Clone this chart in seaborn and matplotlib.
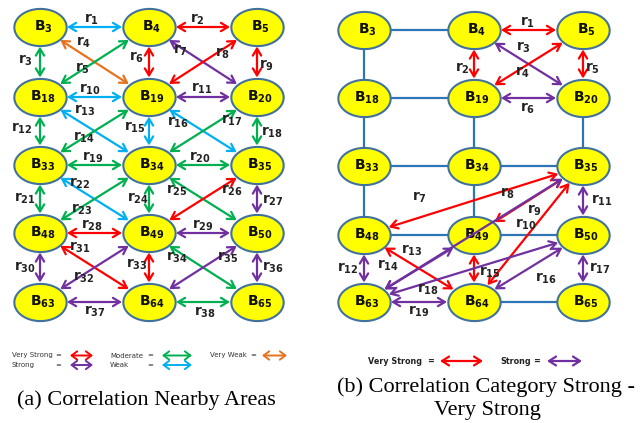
import numpy as np
import matplotlib.pyplot as plt
import seaborn as sns
import pandas as pd
from matplotlib.path import Path
from matplotlib.patches import FancyArrowPatch

sns.set_theme(style="white")

# block ids on the 5x3 grid (same in both panels)
grid_ids = [[3, 4, 5], [18, 19, 20], [33, 34, 35], [48, 49, 50], [63, 64, 65]]

# (a) correlation between nearby areas: r1..r38
a_src = [3, 4, 3, 3, 18, 4, 4, 19, 5, 18, 19, 18, 18, 33, 19, 19, 34, 20, 33,
         34, 33, 33, 48, 34, 34, 49, 35, 48, 49, 48, 48, 63, 49, 49, 64, 50, 63, 64]
a_dst = [4, 5, 18, 19, 4, 19, 20, 5, 20, 19, 20, 33, 34, 19, 34, 35, 20, 35, 34,
         35, 48, 49, 34, 49, 50, 35, 50, 49, 50, 63, 64, 49, 64, 65, 50, 65, 64, 65]
a_cat = ["weak", "very strong", "moderate", "very weak", "moderate", "very strong",
         "strong", "very strong", "very strong", "weak", "strong", "moderate", "weak",
         "moderate", "weak", "weak", "moderate", "moderate", "moderate", "moderate",
         "moderate", "weak", "moderate", "moderate", "moderate", "very strong", "strong",
         "very strong", "strong", "strong", "very strong", "strong", "very strong",
         "moderate", "strong", "strong", "strong", "moderate"]

# (b) only strong / very strong: r1..r19
b_src = [4, 4, 4, 19, 5, 19, 48, 49, 63, 64, 35, 48, 48, 63, 49, 64, 50, 63, 63]
b_dst = [5, 19, 20, 5, 20, 20, 35, 35, 35, 35, 50, 63, 64, 49, 64, 50, 65, 50, 64]
b_cat = ["very strong", "very strong", "strong", "very strong", "very strong", "strong",
         "very strong", "very strong", "strong", "very strong", "strong", "strong",
         "very strong", "strong", "very strong", "strong", "strong", "strong", "strong"]

pal = {"very strong": "#FF0000", "strong": "#7030A0", "moderate": "#00B050",
       "weak": "#00B0F0", "very weak": "#E8731E"}

# layout (pixels)
cols_a, rows_a = [40, 149, 257], [27, 97, 165, 233, 302]
cols_b, rows_b = [364, 474, 583], [30, 98, 166, 235, 302]
AX, BX = 26, 18.5  # ellipse semi axes

# label placement: (t along edge, dx, dy)
lab_a = [(0.5, -3, -8), (0.5, -6, -8), (0.5, -15, -2), (0.5, -11, -20), (0.5, -12, 6),
         (0.5, -12, -5), (0.5, -23, -12), (0.5, 20, -9), (0.5, 10, 3), (0.5, -4, -8),
         (0.5, -1, -9), (0.5, -18, -3), (0.5, -10, -21), (0.5, -10, 6), (0.5, -14, -4),
         (0.5, -25, -9), (0.5, 29, -11), (0.5, 15, 1), (0.5, -2, -8), (0.5, -3, -8),
         (0.5, -15, -1), (0.5, -15, -16), (0.5, -13, 10), (0.5, -11, -1), (0.5, -26, -9),
         (0.5, 29, -9), (0.5, 16, 1), (0.5, -3, -8), (0.5, 0, -8), (0.5, -15, 0),
         (0.5, -15, -20), (0.5, -11, 10), (0.5, -12, -3), (0.5, -26, -10), (0.5, 25, -10),
         (0.5, 16, 0), (0.5, 0, 9), (0.5, 2, 10)]
lab_b = [(0.5, -1, -8), (0.5, -12, 4), (0.5, -5, -17), (0.5, -6, 8), (0.5, 10, 4),
         (0.5, -1, 10), (0.25, 1, -20), (0.31, 0, -20), (0.78, 0, 14), (0.57, -10, 0),
         (0.5, 19, 0), (0.5, -16, 0), (0.5, -7, -18), (0.5, -31, -3), (0.5, 16, 4),
         (0.5, 18, 10), (0.5, 17, 0), (0.29, 0, 7), (0.5, 0, 9)]


def positions(cols, rows):
    return {grid_ids[r][c]: np.array([cols[c], rows[r]], float)
            for r in range(5) for c in range(3)}


pos_a = positions(cols_a, rows_a)
pos_b = positions(cols_b, rows_b)

fig = plt.figure(figsize=(6.42, 4.23), dpi=100)
ax = fig.add_axes([0, 0, 1, 1])


def arrow(p0, p1, color, lw=1.6, hl=0.5, hw=0.3):
    ax.add_patch(FancyArrowPatch(p0, p1, arrowstyle=f"<->,head_length={hl},head_width={hw}",
                                 mutation_scale=10, color=color, lw=lw,
                                 shrinkA=0, shrinkB=0, zorder=4))


def draw_edges(pos, src, dst, cat, labs):
    for k, (s, d, c) in enumerate(zip(src, dst, cat)):
        p, q = pos[s], pos[d]
        u = (q - p) / np.linalg.norm(q - p)
        t = 1 / np.sqrt((u[0] / AX) ** 2 + (u[1] / BX) ** 2) + 1.0
        arrow(p + t * u, q - t * u, pal[c])
        f, dx, dy = labs[k]
        m = p + f * (q - p)
        ax.text(m[0] + dx, m[1] + dy, rf"$\mathbf{{r_{{{k + 1}}}}}$", fontsize=10,
                ha="center", va="center", color="#222222", zorder=5)


# blue grid links in (b) where there is no strong arrow
linked = {frozenset(e) for e in zip(b_src, b_dst)}
for r in range(5):
    for c in range(3):
        for r2, c2 in [(r, c + 1), (r + 1, c)]:
            if r2 < 5 and c2 < 3:
                i, j = grid_ids[r][c], grid_ids[r2][c2]
                if frozenset((i, j)) not in linked:
                    ax.plot([pos_b[i][0], pos_b[j][0]], [pos_b[i][1], pos_b[j][1]],
                            color="#2E75B6", lw=1.6, zorder=1)

# nodes
theta = np.linspace(0, 2 * np.pi, 120)
ell = Path(np.column_stack([np.cos(theta), 0.71 * np.sin(theta)]), closed=True)
nodes = pd.DataFrame(
    [(i, *pos_a[i]) for i in pos_a] + [(i, *pos_b[i]) for i in pos_b],
    columns=["id", "x", "y"])
sns.scatterplot(data=nodes, x="x", y="y", marker=ell, s=1420, color="#FFFF00",
                edgecolor="#41719C", linewidth=1.5, ax=ax, zorder=2, legend=False)
ax.set_xlim(0, 642)
ax.set_ylim(423, 0)
ax.axis("off")
for _, row in nodes.iterrows():
    ax.text(row.x + 3, row.y, rf"$\mathbf{{B_{{{int(row.id)}}}}}$", fontsize=10,
            ha="center", va="center", color="#111111", zorder=3)

draw_edges(pos_a, a_src, a_dst, a_cat, lab_a)
draw_edges(pos_b, b_src, b_dst, b_cat, lab_b)

# legend (a)
leg_a = [("Very Strong", 12, 355.5, 58, "very strong", 70, 93),
         ("Strong", 12, 365, 58, "strong", 70, 93),
         ("Moderate", 110, 355.5, 150, "moderate", 162, 192),
         ("Weak", 110, 365, 150, "weak", 162, 192),
         ("Very Weak", 210, 355.5, 253, "very weak", 262, 287)]
for name, tx, ty, ex, c, x0, x1 in leg_a:
    ax.text(tx, ty, name, fontsize=5.0, ha="left", va="center", color="#333333")
    ax.text(ex, ty, "=", fontsize=5.0, ha="center", va="center", color="#333333")
    arrow((x0, ty), (x1, ty), pal[c], lw=1.4, hl=0.4, hw=0.3)

# legend (b)
for name, tx, ex, c, x0, x1 in [("Very Strong", 368, 431, "very strong", 440, 483),
                                 ("Strong", 500, 537, "strong", 547, 582)]:
    ax.text(tx, 361, name, fontsize=5.8, fontweight="bold", ha="left", va="center",
            color="#222222")
    ax.text(ex, 361, "=", fontsize=5.8, fontweight="bold", ha="center", va="center",
            color="#222222")
    arrow((x0, 361), (x1, 361), pal[c], lw=1.6, hl=0.5, hw=0.32)

# captions
serif = ["Liberation Serif", "DejaVu Serif"]
ax.text(146, 400, "(a) Correlation Nearby Areas", family=serif, fontsize=16,
        ha="center", va="center", color="black")
ax.text(486, 387, "(b) Correlation Category Strong -", family=serif, fontsize=16,
        ha="center", va="center", color="black")
ax.text(487, 411, "Very Strong", family=serif, fontsize=16,
        ha="center", va="center", color="black")

plt.savefig("out.png", dpi=100)
